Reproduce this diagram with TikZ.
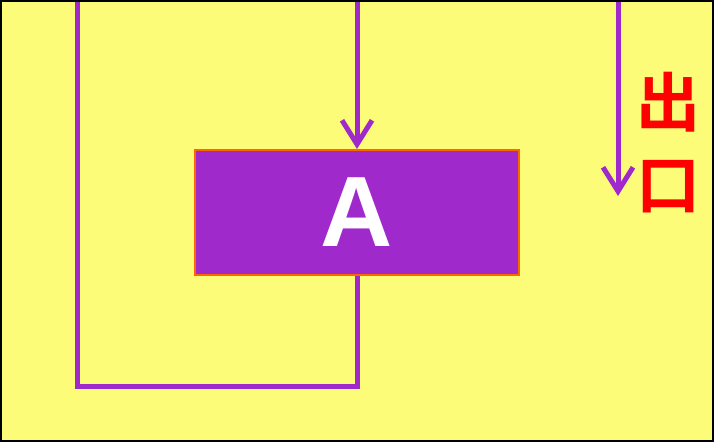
\documentclass[tikz,border=0pt]{standalone}
\usepackage{fontspec}
\setsansfont{Liberation Sans}
\newfontfamily\cjk{Noto Sans CJK SC Bold}
\usetikzlibrary{arrows.meta}
\definecolor{bgyel}{RGB}{252,252,120}
\definecolor{purp}{RGB}{160,41,204}
\definecolor{orng}{RGB}{255,102,0}
\begin{document}
\begin{tikzpicture}[x=1pt,y=-1pt,
  conn/.style={draw=purp,line width=5pt},
  arr/.style={conn,-{Straight Barb[length=24pt,width=30pt,line width=5pt]}},
  boxA/.style={draw=orng,line width=2pt,fill=purp,minimum width=324pt,minimum height=125pt,inner sep=0pt,text=white,font=\sffamily\bfseries\fontsize{100}{100}\selectfont}]
\useasboundingbox (0,0) rectangle (714,442);
\fill[bgyel] (0,0) rectangle (714,442);
\node[boxA] (A) at (357,212.5) {A};
\coordinate (top) at (357,0);
\coordinate (ltop) at (77,0);
\coordinate (lbot) at (77,386);
\coordinate (rbot) at (357,386);
\coordinate (extop) at (618,0);
\coordinate (exbot) at (618,196);
\draw[arr] (top) -- (A.north);
\draw[conn,line join=miter] (ltop) -- (lbot) -- (rbot) -- (A.south);
\draw[arr] (extop) -- (exbot);
\node[text=red,font=\cjk\fontsize{64}{64}\selectfont] (c1) at (668,102) {出};
\node[text=red,font=\cjk\fontsize{64}{64}\selectfont] (c2) at (668,187) {口};
\draw[black,line width=2pt] (1,1) rectangle (713,441);
\end{tikzpicture}
\end{document}
